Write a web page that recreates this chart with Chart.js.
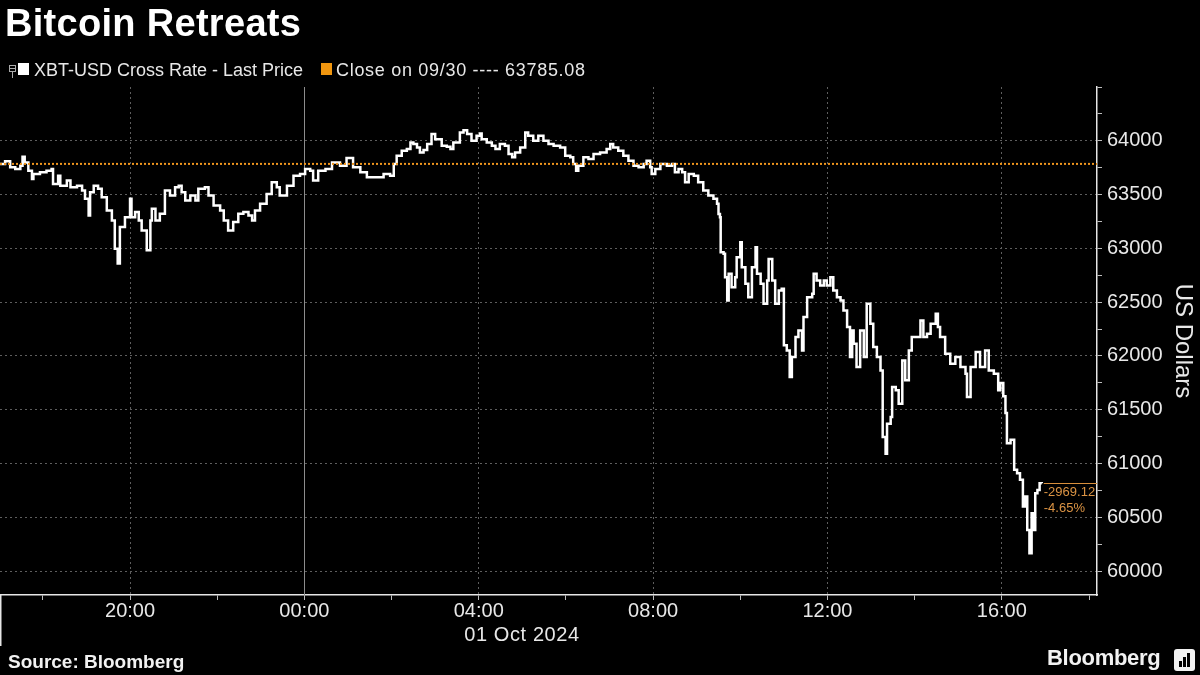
<!DOCTYPE html>
<html>
<head>
<meta charset="utf-8">
<script src="https://cdn.jsdelivr.net/npm/chart.js@4.4.1/dist/chart.umd.min.js"></script>
<style>
  html, body { margin: 0; padding: 0; background: #000; }
  #wrap { position: relative; width: 1200px; height: 675px; overflow: hidden; background: #000;
          font-family: "Liberation Sans", Arial, sans-serif; color: #fff; }
  #chart { position: absolute; left: 0; top: 0; }
  .title { position: absolute; left: 5px; top: 2px; font-size: 38px; font-weight: bold; letter-spacing: 0.3px; }
  .lg { position: absolute; top: 59px; font-size: 18px; line-height: 22px; color: #e8e8e8; white-space: nowrap; }
  .sq { position: absolute; top: 63px; width: 11px; height: 12px; }
  .date { position: absolute; left: 457px; width: 130px; top: 623px; text-align: center; font-size: 20px; color: #e8e8e8; letter-spacing: 0.6px; }
  .source { position: absolute; left: 8px; top: 651px; font-size: 19px; font-weight: bold; color: #f2f2f2; }
  .logo { position: absolute; left: 1047px; top: 645px; font-size: 22px; font-weight: bold; letter-spacing: -0.3px; color: #f2f2f2; }
  .logobox { position: absolute; left: 1174px; top: 649px; width: 21px; height: 22px; border-radius: 3px; background: #f2f2f2; }
  .bar { position: absolute; bottom: 4px; width: 3px; background: #000; }
</style>
</head>
<body>
<div id="wrap">
  <canvas id="chart" width="1200" height="675"></canvas>
  <div class="title">Bitcoin Retreats</div>

  <div style="position:absolute;left:9px;top:65px;width:5px;height:5px;border:1px solid #aaa;"></div>
  <div style="position:absolute;left:10px;top:68px;width:5px;height:1px;background:#aaa;"></div>
  <div style="position:absolute;left:12px;top:72px;width:1px;height:6px;background:#aaa;"></div>
  <div class="sq" style="left:18px;background:#ffffff;"></div>
  <div class="lg" style="left:34px;">XBT-USD Cross Rate - Last Price</div>
  <div class="sq" style="left:321px;background:#f0960f;"></div>
  <div class="lg" style="left:336px;letter-spacing:0.7px;">Close on 09/30 ---- 63785.08</div>

  <div class="date">01 Oct 2024</div>
  <div class="source">Source: Bloomberg</div>
  <div class="logo">Bloomberg</div>
  <div class="logobox">
    <div class="bar" style="left:5px;height:6px;"></div>
    <div class="bar" style="left:9px;height:10px;"></div>
    <div class="bar" style="left:13px;height:14px;"></div>
  </div>
</div>
<script>
// minutes relative to 00:00 on 01 Oct 2024 (negative = 30 Sep)
const timeMinutes = [
  -419, -412, -405, -398, -391, -388, -385, -380, -375, -373, -364, -355, -348, -346, -339, -336,
  -327, -322, -313, -306, -302, -297, -295, -290, -284, -279, -272, -265, -261, -257, -254, -247,
  -240, -238, -233, -228, -224, -217, -212, -210, -205, -199, -192, -185, -178, -173, -169, -164,
  -157, -150, -146, -137, -132, -125, -116, -111, -105, -98, -91, -84, -77, -72, -68, -61,
  -52, -45, -38, -34, -24, -15, -6, 1, 8, 12, 19, 29, 38, 49, 58, 67,
  77, 86, 97, 109, 118, 123, 127, 134, 141, 146, 150, 155, 159, 164, 169, 175,
  180, 184, 189, 196, 201, 205, 210, 214, 219, 224, 230, 237, 242, 244, 251, 258,
  263, 269, 276, 281, 286, 290, 297, 304, 308, 315, 322, 329, 336, 343, 352, 359,
  366, 370, 374, 377, 384, 391, 398, 407, 416, 421, 425, 432, 439, 446, 453, 460,
  467, 471, 476, 478, 483, 490, 499, 506, 510, 515, 520, 524, 529, 536, 542, 549,
  556, 563, 568, 570, 572, 573, 577, 579, 582, 584, 588, 593, 595, 600, 602, 607,
  611, 616, 621, 623, 628, 632, 637, 639, 644, 648, 653, 657, 660, 664, 668, 671,
  676, 680, 685, 687, 692, 699, 701, 705, 710, 715, 719, 724, 728, 733, 738, 742,
  747, 751, 754, 756, 760, 765, 770, 774, 779, 783, 788, 793, 796, 800, 802, 807,
  809, 814, 818, 823, 827, 832, 836, 843, 848, 852, 857, 862, 869, 872, 875, 882,
  889, 896, 903, 910, 912, 917, 924, 930, 937, 942, 949, 955, 958, 962, 965, 967,
  972, 977, 981, 985, 989, 992, 995, 998, 1001, 1003, 1006, 1009, 1012, 1015
];
const prices = [
  63784, 63809, 63753, 63738, 63769, 63852, 63799, 63722, 63645, 63691, 63707, 63722, 63738, 63599, 63676, 63583,
  63630, 63568, 63583, 63537, 63460, 63306, 63522, 63583, 63553, 63475, 63352, 63259, 62997, 62858, 63198, 63290,
  63460, 63290, 63337, 63259, 63167, 62982, 63259, 63367, 63259, 63321, 63537, 63491, 63568, 63583, 63522, 63445,
  63491, 63445, 63553, 63568, 63491, 63398, 63352, 63259, 63167, 63244, 63321, 63337, 63306, 63259, 63352, 63414,
  63506, 63614, 63568, 63491, 63583, 63676, 63691, 63738, 63722, 63630, 63722, 63738, 63799, 63769, 63840, 63753,
  63707, 63661, 63661, 63691, 63676, 63784, 63861, 63907, 63923, 63985, 63969, 63938, 63892, 63914, 63969, 64062,
  64015, 64015, 63954, 63944, 63923, 63985, 63985, 64077, 64099, 64062, 64000, 64046, 64068, 64015, 63985, 63954,
  63923, 63969, 63954, 63877, 63846, 63892, 63938, 64077, 64046, 64000, 64046, 64000, 63969, 63954, 63938, 63861,
  63846, 63784, 63722, 63769, 63846, 63830, 63877, 63892, 63923, 63969, 63938, 63907, 63861, 63815, 63769, 63753,
  63784, 63815, 63753, 63691, 63738, 63784, 63769, 63784, 63707, 63738, 63707, 63614, 63691, 63676, 63614, 63537,
  63491, 63460, 63414, 63320, 63289, 62964, 62949, 62732, 62515, 62763, 62639, 62732, 62918, 63057, 62825, 62670,
  62546, 62825, 63011, 62763, 62670, 62484, 62701, 62902, 62701, 62484, 62608, 62624, 62098, 62051, 61803, 61989,
  62175, 62237, 62051, 62361, 62546, 62577, 62763, 62701, 62655, 62701, 62655, 62732, 62608, 62546, 62515, 62423,
  62268, 61989, 62237, 62113, 61896, 62237, 61989, 62484, 62299, 62082, 61989, 61865, 61246, 61091, 61370, 61432,
  61711, 61680, 61556, 61958, 61773, 62051, 62175, 62175, 62330, 62175, 62206, 62299, 62392, 62268, 62175, 62020,
  61927, 61989, 61896, 61834, 61618, 61896, 62036, 61896, 62051, 61865, 61834, 61680, 61748, 61624, 61469, 61189,
  61220, 60941, 60910, 60848, 60599, 60692, 60382, 60164, 60537, 60382, 60723, 60754, 60817, 60815.96
];
const closePrice = 63785.08;

// axis tick marks and the labelled subset
const xTickMarks = [-360, -240, -120, 0, 120, 240, 360, 480, 600, 720, 840, 960, 1080];
const xTickValues = [-240, 0, 240, 480, 720, 960];
const xTickLabels = ['20:00', '00:00', '04:00', '08:00', '12:00', '16:00'];
const yTickMarks = [60000, 60250, 60500, 60750, 61000, 61250, 61500, 61750, 62000, 62250,
                    62500, 62750, 63000, 63250, 63500, 63750, 64000, 64250, 64500];
const yTickValues = [60000, 60500, 61000, 61500, 62000, 62500, 63000, 63500, 64000];

const xMin = -419, xMax = 1091;
const yMin = 59777, yMax = 64500;

const orange = '#f0961e';
const gridGray = '#5e5e5e';
const axisColor = '#e6e6e6';
const fontFamily = '"Liberation Sans", Arial, sans-serif';

const decor = {
  id: 'decor',
  beforeDatasetsDraw(chart) {
    const { ctx, chartArea, scales } = chart;
    const x0 = Math.round(scales.x.getPixelForValue(0)) + 0.5;
    ctx.save();
    ctx.strokeStyle = '#8c8c8c';
    ctx.lineWidth = 1;
    ctx.beginPath();
    ctx.moveTo(x0, chartArea.top);
    ctx.lineTo(x0, chartArea.bottom);
    ctx.stroke();
    ctx.restore();
  },
  afterDraw(chart) {
    const { ctx, chartArea, scales } = chart;
    ctx.save();
    // left frame line down to the date row
    ctx.strokeStyle = axisColor;
    ctx.lineWidth = 1.5;
    ctx.beginPath();
    ctx.moveTo(chartArea.left + 0.75, chartArea.bottom);
    ctx.lineTo(chartArea.left + 0.75, chartArea.bottom + 51);
    ctx.stroke();

    // change since close annotation
    const last = prices[prices.length - 1];
    const lx = scales.x.getPixelForValue(timeMinutes[timeMinutes.length - 1]);
    const ly = Math.round(scales.y.getPixelForValue(last)) + 0.5;
    ctx.strokeStyle = '#d88f3c';
    ctx.lineWidth = 1;
    ctx.beginPath();
    ctx.moveTo(lx + 2, ly);
    ctx.lineTo(chartArea.right, ly);
    ctx.stroke();
    const diff = last - closePrice;
    const pct = diff / closePrice * 100;
    ctx.fillStyle = '#dc9444';
    ctx.font = '13px ' + fontFamily;
    ctx.textAlign = 'left';
    ctx.textBaseline = 'middle';
    ctx.fillText(diff.toFixed(2), lx + 2, ly + 9);
    ctx.fillText(pct.toFixed(2) + '%', lx + 2, ly + 25);

    // right axis title
    ctx.translate(1183, (chartArea.top + chartArea.bottom) / 2);
    ctx.rotate(Math.PI / 2);
    ctx.fillStyle = '#e8e8e8';
    ctx.font = '24px ' + fontFamily;
    ctx.textAlign = 'center';
    ctx.textBaseline = 'middle';
    ctx.fillText('US Dollars', 0, 0);
    ctx.restore();
  }
};

new Chart(document.getElementById('chart'), {
  type: 'line',
  data: {
    datasets: [{
      label: 'Close on 09/30',
      data: [{ x: xMin, y: closePrice }, { x: xMax, y: closePrice }],
      borderColor: orange,
      borderWidth: 2,
      borderDash: [2, 2],
      pointRadius: 0,
      order: 0
    }, {
      label: 'XBT-USD Cross Rate - Last Price',
      data: timeMinutes.map((t, i) => ({ x: t, y: prices[i] })),
      borderColor: '#ffffff',
      borderWidth: 2.5,
      pointRadius: 0,
      stepped: true,
      order: 1
    }]
  },
  options: {
    responsive: false,
    animation: false,
    layout: { padding: { top: 87, left: 0, right: 0, bottom: 0 } },
    plugins: {
      legend: { display: false },
      tooltip: { enabled: false }
    },
    scales: {
      x: {
        type: 'linear',
        min: xMin,
        max: xMax,
        afterFit: function (scale) { scale.height = 80; },
        afterBuildTicks: function (scale) { scale.ticks = xTickMarks.map(v => ({ value: v })); },
        border: { display: true, color: axisColor, width: 1.5, dash: [2, 3] },
        grid: {
          color: function (c) {
            const v = c.tick ? c.tick.value : null;
            return v !== null && v !== 0 && xTickValues.includes(v) ? gridGray : 'transparent';
          },
          lineWidth: 1,
          tickLength: 5,
          tickColor: '#bdbdbd',
          tickWidth: 1
        },
        ticks: {
          autoSkip: false,
          maxRotation: 0,
          padding: -1,
          color: '#e8e8e8',
          font: { family: fontFamily, size: 20 },
          callback: function (value) {
            const i = xTickValues.indexOf(value);
            return i >= 0 ? xTickLabels[i] : '';
          }
        }
      },
      y: {
        type: 'linear',
        position: 'right',
        min: yMin,
        max: yMax,
        afterFit: function (scale) { scale.width = 103; },
        afterBuildTicks: function (scale) { scale.ticks = yTickMarks.map(v => ({ value: v })); },
        border: { display: true, color: axisColor, width: 1.5, dash: [2, 3] },
        grid: {
          color: function (c) {
            const v = c.tick ? c.tick.value : null;
            return v !== null && yTickValues.includes(v) ? gridGray : 'transparent';
          },
          lineWidth: 1,
          tickLength: 5,
          tickColor: '#bdbdbd',
          tickWidth: 1
        },
        ticks: {
          autoSkip: false,
          padding: 5,
          color: '#e8e8e8',
          font: { family: fontFamily, size: 20 },
          callback: function (value) {
            return yTickValues.includes(value) ? String(value) : '';
          }
        }
      }
    }
  },
  plugins: [decor]
});
</script>
</body>
</html>
